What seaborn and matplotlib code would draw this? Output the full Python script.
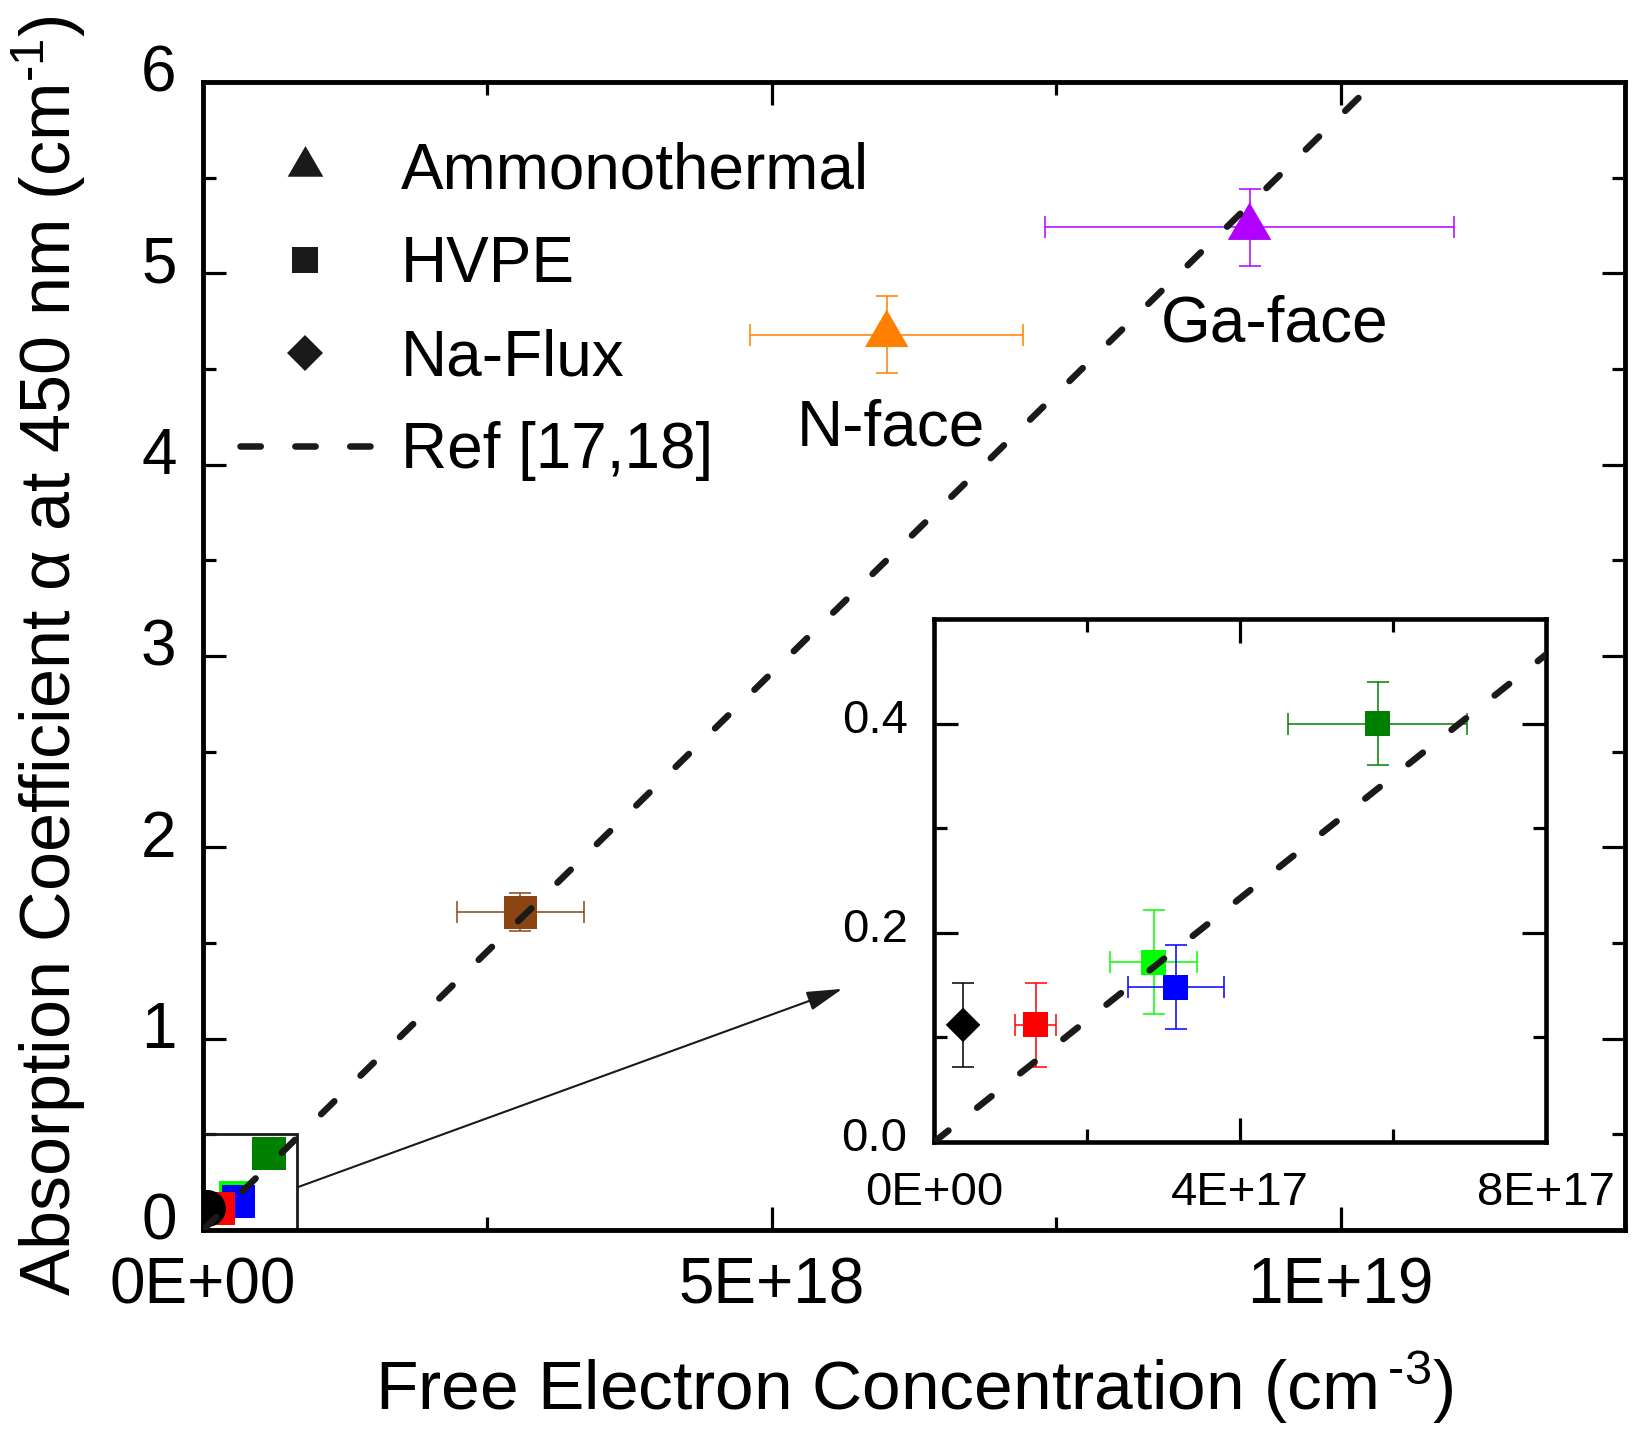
import numpy as np
import pandas as pd
import matplotlib
matplotlib.use("Agg")
import matplotlib.pyplot as plt
import matplotlib.transforms as mtransforms
from matplotlib.path import Path
from matplotlib.lines import Line2D
from matplotlib.patches import Rectangle
from matplotlib.ticker import MultipleLocator, FuncFormatter
import seaborn as sns

# ---- data -------------------------------------------------------------
sample = ["Ga-face", "N-face", "HVPE-A", "HVPE-B", "HVPE-C", "HVPE-D", "HVPE-E", "Na-Flux"]
method = ["Ammonothermal", "Ammonothermal", "HVPE", "HVPE", "HVPE", "HVPE", "HVPE", "Na-Flux"]
n_free = [9.2e18, 6.01e18, 2.79e18, 5.8e17, 2.87e17, 3.16e17, 1.33e17, 3.8e16]
n_err = [1.8e18, 1.2e18, 5.6e17, 1.17e17, 5.7e16, 6.3e16, 2.7e16, 0.0]
alpha = [5.24, 4.68, 1.66, 0.40, 0.172, 0.148, 0.112, 0.112]
alpha_err = [0.20, 0.20, 0.10, 0.04, 0.05, 0.04, 0.04, 0.04]
colors = ["#B000FF", "#FF8000", "#8B4513", "#008000", "#00FF00", "#0000FF", "#FF0000", "#000000"]

# literature trend line, Ref [17,18]
ref_n = [0.0, 1.03e19]
ref_alpha = [0.0, 6.0]

# zoomed region shown in the inset
zoom_n = 8.3e17
zoom_alpha = 0.5

legend_labels = ["Ammonothermal", "HVPE", "Na-Flux", "Ref [17,18]"]

df = pd.DataFrame(dict(sample=sample, method=method, n=n_free, n_err=n_err,
                       alpha=alpha, alpha_err=alpha_err, color=colors))
palette = dict(zip(sample, colors))

# ---- style ------------------------------------------------------------
sns.set_theme(style="ticks")
plt.rcParams["font.family"] = ["Liberation Sans", "DejaVu Sans"]
plt.rcParams["mathtext.fontset"] = "custom"
plt.rcParams["mathtext.rm"] = "Liberation Sans"
plt.rcParams["mathtext.default"] = "regular"
plt.rcParams["lines.scale_dashes"] = False
plt.rcParams["axes.linewidth"] = 3.5
for key in ["text.color", "axes.labelcolor", "axes.edgecolor",
            "xtick.color", "ytick.color"]:
    plt.rcParams[key] = "black"

# triangle with its centroid on the data point
tri = Path([(0, 25), (-21.75, -12.5), (21.75, -12.5), (0, 25)],
           [Path.MOVETO, Path.LINETO, Path.LINETO, Path.CLOSEPOLY])

ref_lw = 4.7
dash_main = (0, (13.3, 26.4))
dash_legend = (0, (14.6, 24.9))

fig = plt.figure(figsize=(16.32, 14.29), dpi=100)
ax = fig.add_axes([0.1244, 0.1393, 0.8713, 0.8033])


def draw_errorbars(axis, data):
    for _, r in data.iterrows():
        axis.errorbar(r.n, r.alpha,
                      xerr=(r.n_err if r.n_err > 0 else None),
                      yerr=r.alpha_err, fmt="none", ecolor=r.color,
                      elinewidth=1.1, capsize=8, capthick=1.1, zorder=2)


# ---- main panel --------------------------------------------------------
draw_errorbars(ax, df)
main_markers = {"Ammonothermal": (tri, 1296), "HVPE": ("s", 566), "Na-Flux": ("o", 710)}
for m, (mk, sz) in main_markers.items():
    sub = df[df.method == m]
    sns.scatterplot(data=sub, x="n", y="alpha", hue="sample", palette=palette,
                    marker=mk, s=sz, linewidth=0, edgecolor="none",
                    legend=False, ax=ax, zorder=3)

sns.lineplot(x=ref_n, y=ref_alpha, ax=ax, color="k", linewidth=ref_lw,
             linestyle=dash_main, dash_capstyle="round", zorder=4, legend=False)

ax.add_patch(Rectangle((0, 0), zoom_n, zoom_alpha, fill=False, lw=2,
                       ec="k", zorder=1.5))
ax.annotate("", xy=(5.62e18, 1.26), xytext=(zoom_n, 0.223),
            arrowprops=dict(arrowstyle="-|>,head_length=1.1,head_width=0.3",
                            color="k", lw=1.5, shrinkA=0, shrinkB=0,
                            mutation_scale=20), zorder=5)

ax.text(9.42e18, 4.645, "Ga-face", ha="center", va="baseline", fontsize=46)
ax.text(6.045e18, 4.10, "N-face", ha="center", va="baseline", fontsize=46)

ax.set_xlim(0, 1.25e19)
ax.set_ylim(0, 6)
ax.xaxis.set_major_locator(MultipleLocator(5e18))
ax.xaxis.set_minor_locator(MultipleLocator(2.5e18))
ax.yaxis.set_major_locator(MultipleLocator(1))
ax.yaxis.set_minor_locator(MultipleLocator(0.5))
ax.xaxis.set_major_formatter(FuncFormatter(lambda v, p: f"{v:.0E}"))
ax.yaxis.set_major_formatter(FuncFormatter(lambda v, p: f"{v:.0f}"))
ax.tick_params(which="both", direction="in", top=True, right=True,
               width=2.3, labelsize=46, pad=19)
ax.tick_params(which="major", length=16.6)
ax.tick_params(which="minor", length=9.1)
for s in ax.spines.values():
    s.set_linewidth(3.5)

ax.set_xlabel("Free Electron Concentration (cm$^{\\,\u20103}$)", fontsize=50)
ax.set_ylabel("Absorption Coefficient α at 450 nm (cm$^{\u20101}$)", fontsize=50.5)
ax.xaxis.set_label_coords(0.5, -0.104)
ax.yaxis.set_label_coords(-0.081, 0.5)

handles = [
    Line2D([], [], ls="none", marker=tri, ms=29.5, mfc="k", mec="k", mew=0),
    Line2D([], [], ls="none", marker="s", ms=18.7, mfc="k", mec="k", mew=0),
    Line2D([], [], ls="none", marker="D", ms=18.8, mfc="k", mec="k", mew=0),
    Line2D([], [], color="k", lw=ref_lw, ls=dash_legend, dash_capstyle="round"),
]
ax.legend(handles=handles, labels=legend_labels, loc="upper left",
          bbox_to_anchor=(0.0257, 0.948), frameon=False, fontsize=46,
          handlelength=2.05, handletextpad=0.47, labelspacing=0.52,
          borderpad=0, borderaxespad=0)

# ---- inset --------------------------------------------------------------
axins = fig.add_axes([0.5723, 0.2008, 0.375, 0.366])
inset_df = df[(df.n < zoom_n) & (df.alpha < zoom_alpha)]
draw_errorbars(axins, inset_df)
inset_markers = {"HVPE": ("s", 320), "Na-Flux": ("D", 310)}
for m, (mk, sz) in inset_markers.items():
    sub = inset_df[inset_df.method == m]
    sns.scatterplot(data=sub, x="n", y="alpha", hue="sample", palette=palette,
                    marker=mk, s=sz, linewidth=0, edgecolor="none",
                    legend=False, ax=axins, zorder=3)
sns.lineplot(x=ref_n, y=ref_alpha, ax=axins, color="k", linewidth=ref_lw,
             linestyle=dash_main, dash_capstyle="round", zorder=4, legend=False)

axins.set_xlim(0, 8e17)
axins.set_ylim(0, 0.5)
axins.xaxis.set_major_locator(MultipleLocator(4e17))
axins.xaxis.set_minor_locator(MultipleLocator(2e17))
axins.yaxis.set_major_locator(MultipleLocator(0.2))
axins.yaxis.set_minor_locator(MultipleLocator(0.1))
axins.xaxis.set_major_formatter(FuncFormatter(lambda v, p: f"{v:.0E}"))
axins.yaxis.set_major_formatter(FuncFormatter(lambda v, p: f"{v:.1f}"))
axins.tick_params(which="both", direction="in", top=True, right=True,
                  width=2.3, labelsize=34)
axins.tick_params(axis="x", pad=21)
axins.tick_params(axis="y", pad=19)
axins.tick_params(which="major", length=17)
axins.tick_params(which="minor", length=9.4)
axins.set_xlabel("")
axins.set_ylabel("")
for s in axins.spines.values():
    s.set_linewidth(3.3)

# y tick labels sit slightly above their ticks
shift_main = mtransforms.ScaledTranslation(0, 0.14, fig.dpi_scale_trans)
for t in ax.yaxis.get_major_ticks():
    t.label1.set_transform(t.label1.get_transform() + shift_main)
shift_ins = mtransforms.ScaledTranslation(0, 0.08, fig.dpi_scale_trans)
for t in axins.yaxis.get_major_ticks():
    t.label1.set_transform(t.label1.get_transform() + shift_ins)

fig.savefig("out.png", dpi=100)
